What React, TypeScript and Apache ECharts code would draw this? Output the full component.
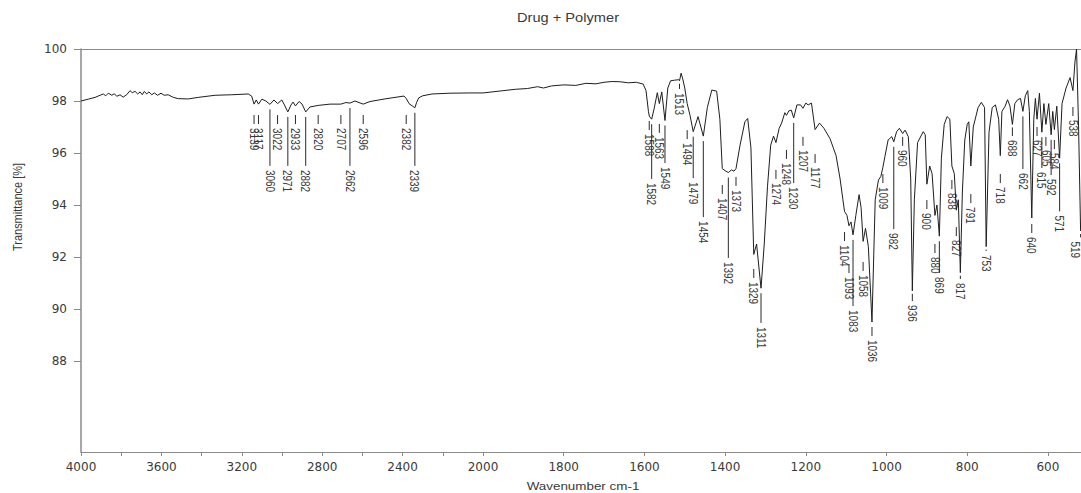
import React, { useEffect, useRef } from 'react';
import * as echarts from 'echarts';

// FTIR spectrum: wavenumber (cm-1) and transmittance (%)
const curveWavenumbers = [
  4000, 3997, 3964, 3930, 3905, 3889, 3877, 3864, 3847, 3834, 3822, 3806, 3790, 3773, 3756, 3745,
  3731, 3718, 3706, 3695, 3685, 3673, 3662, 3648, 3635, 3619, 3602, 3586, 3566, 3541, 3516, 3466,
  3416, 3333, 3250, 3168, 3151, 3139, 3128, 3117, 3100, 3080, 3060, 3040, 3022, 3001, 2990, 2971,
  2955, 2945, 2933, 2915, 2900, 2882, 2861, 2820, 2761, 2707, 2682, 2662, 2637, 2596, 2562, 2488,
  2428, 2393, 2382, 2368, 2350, 2339, 2330, 2320, 2300, 2254, 2164, 2065, 2000,
  1960, 1920, 1890, 1865, 1850, 1830, 1800, 1770, 1745, 1720, 1700, 1680, 1660, 1640, 1620, 1603,
  1596, 1590, 1588, 1582, 1576, 1568, 1563, 1557, 1549, 1542, 1535, 1525, 1515, 1513, 1509, 1505,
  1500, 1494, 1487, 1479, 1467, 1454, 1444, 1433, 1421, 1413, 1407, 1398, 1392, 1384, 1378, 1373,
  1363, 1351, 1344, 1336, 1329, 1322, 1311, 1303, 1295, 1287, 1280, 1274, 1266, 1260, 1252, 1248,
  1242, 1236, 1230, 1222, 1213, 1207, 1200, 1194, 1186, 1177, 1166, 1155, 1140, 1125, 1115, 1108,
  1104, 1098, 1093, 1088, 1083, 1076, 1068, 1063, 1058, 1052, 1045, 1036, 1028, 1020, 1014, 1009,
  1004, 996, 987, 982, 975, 968, 960, 954, 946, 940, 936, 931, 923, 909, 904, 900,
  893, 887, 880, 875, 869, 864, 857, 850, 843, 838, 832, 827, 822, 817, 812, 806,
  800, 796, 791, 785, 773, 765, 757, 753, 746, 738, 730, 722, 718, 714, 706, 700,
  694, 688, 682, 675, 668, 662, 656, 650, 646, 640, 635, 631, 627, 621, 615, 610,
  605, 598, 592, 588, 584, 578, 571, 565, 555, 545, 538, 533, 529, 524, 519,
];
const curveTransmittance = [
  98.0, 98.01, 98.07, 98.14, 98.22, 98.27, 98.2, 98.3, 98.22, 98.28, 98.18, 98.24, 98.15, 98.24, 98.4, 98.32,
  98.37, 98.27, 98.35, 98.24, 98.37, 98.27, 98.35, 98.24, 98.31, 98.22, 98.3, 98.22, 98.24, 98.14, 98.09, 98.08,
  98.14, 98.22, 98.24, 98.27, 98.19, 97.88, 98.04, 97.88, 98.07, 98.0, 97.87, 98.04, 97.9, 98.04, 97.88, 97.58,
  97.85, 97.96, 97.81, 97.98, 97.88, 97.58, 97.77, 97.83, 97.88, 97.88, 97.94, 97.92, 98.0, 97.88, 97.98, 98.08,
  98.15, 98.19, 98.1, 97.9, 97.8, 97.74, 97.95, 98.12, 98.2, 98.27, 98.3, 98.31, 98.31,
  98.38, 98.45, 98.48, 98.55, 98.5, 98.58, 98.62, 98.6, 98.68, 98.66, 98.72, 98.75, 98.74, 98.7, 98.72, 98.65,
  98.4, 97.6, 97.42, 97.3, 97.7, 98.32, 97.9, 98.35, 97.25, 98.5, 98.78, 98.8, 98.82, 98.78, 99.07, 98.85,
  98.5, 97.9, 97.45, 96.82, 97.4, 96.65, 97.75, 98.42, 98.38, 97.3, 95.4, 95.3, 95.25, 95.35, 95.3, 95.4,
  96.3, 97.2, 97.33, 96.2, 92.1, 92.5, 90.8, 92.5, 94.7, 96.3, 96.65, 96.4, 96.95, 97.15, 97.55, 97.45,
  97.62, 97.65, 97.35, 97.85, 97.85, 97.72, 97.92, 97.85, 97.92, 96.9, 97.15, 96.95, 96.55, 95.9, 95.0, 94.2,
  93.75, 93.6, 93.2, 93.35, 92.85, 93.6, 94.4, 93.9, 92.6, 93.1, 92.4, 89.5, 94.2, 94.96, 95.1, 95.45,
  95.86, 96.5, 96.63, 96.43, 96.82, 96.95, 96.75, 96.88, 96.63, 95.0, 90.7, 94.2, 96.4, 96.82, 96.7, 94.8,
  95.5, 95.2, 93.6, 94.0, 92.8, 95.8, 97.1, 97.4, 97.3, 95.5, 95.2, 93.8, 94.2, 91.4, 94.5, 96.5,
  97.1, 97.2, 95.5, 97.0, 97.75, 97.95, 97.75, 92.4, 96.8, 97.75, 97.85, 97.3, 95.9, 97.6, 97.8, 98.05,
  97.8, 97.1, 97.9, 98.05, 98.1, 97.6, 98.2, 98.4, 97.6, 93.5, 97.3, 98.1, 97.3, 98.3, 96.8, 97.9,
  97.1, 97.9, 96.7, 97.6, 96.9, 97.8, 95.8, 97.9, 98.5, 98.9, 98.4, 99.5, 100.0, 97.0, 93.0,
];

// Peak picks: wavenumber, transmittance level where the label text begins, long leader (1) or short (0)
const peakWavenumbers = [
  3139, 3117, 3060, 3022, 2971, 2933, 2882, 2820, 2707, 2662, 2596, 2382, 2339,
  1588, 1582, 1563, 1549, 1513, 1494, 1479, 1454, 1407, 1392, 1373, 1329, 1311, 1274, 1248, 1230,
  1207, 1177, 1104, 1093, 1083, 1058, 1036, 1009, 982, 960, 936, 900, 880, 869, 838, 827, 817,
  791, 753, 718, 688, 662, 640, 627, 615, 605, 592, 584, 571, 538, 519,
];
const peakLabelLevels = [
  96.96, 96.96, 95.35, 96.96, 95.35, 96.96, 95.35, 96.96, 96.96, 95.35, 96.96, 96.96, 95.35,
  96.73, 94.85, 96.62, 95.46, 98.31, 96.38, 94.88, 93.38, 94.27, 91.81, 94.58, 91.04, 89.31, 94.85, 95.62, 94.69,
  96.12, 95.46, 92.46, 91.23, 89.96, 91.31, 88.81, 94.69, 92.92, 96.12, 90.15, 93.69, 92.0, 91.23, 94.46, 92.65, 91.0,
  93.92, 92.08, 94.69, 96.5, 95.23, 92.77, 96.5, 95.27, 96.12, 95.0, 96.0, 93.6, 97.27, 92.6,
];
const peakLongLeader = [
  0, 0, 1, 0, 1, 0, 1, 0, 0, 1, 0, 0, 1,
  0, 1, 0, 1, 0, 0, 1, 1, 0, 1, 0, 0, 1, 0, 0, 1,
  0, 0, 0, 0, 1, 0, 0, 0, 1, 0, 0, 0, 0, 1, 0, 0, 0,
  0, 0, 0, 0, 1, 0, 0, 1, 0, 1, 0, 1, 0, 0,
];

const highTickValues = [4000, 3800, 3600, 3400, 3200, 3000, 2800, 2600, 2400, 2200, 2000];
const highLabelValues = [4000, 3600, 3200, 2800, 2400, 2000];
const lowTickValues = [2000, 1800, 1600, 1400, 1200, 1000, 800, 600];
const lowLabelValues = [1800, 1600, 1400, 1200, 1000, 800, 600];
const yTickValues = [88, 90, 92, 94, 96, 98, 100];

const TITLE = 'Drug + Polymer';
const X_NAME = 'Wavenumber cm-1';
const Y_NAME = 'Transmittance [%]';

const AXIS_COLOR = '#8a8a8a';
const TEXT_COLOR = '#3a3a3a';
const LINE_COLOR = '#1e1e1e';
const STRETCH = 1.22;

export default function App() {
  const ref = useRef<HTMLDivElement>(null);

  useEffect(() => {
    if (!ref.current) return;
    const chart = echarts.init(ref.current, undefined, { renderer: 'svg' });

    const points = curveWavenumbers.map((w, i) => [w, curveTransmittance[i]]);
    const highCurve = points.filter((p) => p[0] >= 2000);
    const lowCurve = points.filter((p) => p[0] <= 2000);

    const peaks = peakWavenumbers.map((w, i) => {
      const idx = curveWavenumbers.indexOf(w);
      return [w, curveTransmittance[idx], peakLabelLevels[i], peakLongLeader[i]];
    });
    const highPeaks = peaks.filter((p) => p[0] > 2000);
    const lowPeaks = peaks.filter((p) => p[0] < 2000);

    const renderPeak = (params: any, api: any) => {
      const wn = api.value(0);
      const p = api.coord([wn, api.value(1)]);
      const l = api.coord([wn, api.value(2)]);
      const long = api.value(3) === 1;
      const cs = params.coordSys;
      const rightLimit = cs.x + cs.width - 6;
      const yStart = long ? p[1] + 5 : Math.max(p[1] + 3, l[1] - 13);
      const yEnd = l[1] - 4;
      const children: any[] = [];
      if (yEnd > yStart) {
        children.push({
          type: 'line',
          shape: { x1: p[0], y1: yStart, x2: p[0], y2: yEnd },
          style: { stroke: '#2a2a2a', lineWidth: 1 },
        });
      }
      children.push({
        type: 'text',
        x: Math.min(p[0], rightLimit),
        y: l[1],
        rotation: -Math.PI / 2,
        scaleY: STRETCH,
        style: {
          text: String(wn),
          fill: TEXT_COLOR,
          fontSize: 10,
          fontFamily: 'Liberation Sans, Arial, sans-serif',
          align: 'left',
          verticalAlign: 'middle',
        },
      });
      return { type: 'group', children };
    };

    const tickLabel = {
      color: TEXT_COLOR,
      fontSize: 12,
      fontFamily: 'DejaVu Sans, sans-serif',
      formatter: (v: number) => String(v),
    };

    const option: any = {
      animation: false,
      grid: [
        { left: 81, top: 49, width: 402, height: 403 },
        { left: 483, top: 49, width: 598, height: 403 },
      ],
      xAxis: [
        {
          gridIndex: 0, type: 'value', min: 2000, max: 4000, inverse: true, position: 'bottom',
          axisLine: { show: true, lineStyle: { color: AXIS_COLOR, width: 1 } },
          axisTick: { show: true, length: 4, lineStyle: { color: AXIS_COLOR }, customValues: highTickValues },
          axisLabel: { ...tickLabel, margin: 9, customValues: highLabelValues },
          splitLine: { show: false },
        },
        {
          gridIndex: 1, type: 'value', min: 518, max: 2000, inverse: true, position: 'bottom',
          axisLine: { show: true, lineStyle: { color: AXIS_COLOR, width: 1 } },
          axisTick: { show: true, length: 4, lineStyle: { color: AXIS_COLOR }, customValues: lowTickValues },
          axisLabel: { ...tickLabel, margin: 9, customValues: lowLabelValues },
          splitLine: { show: false },
        },
        {
          gridIndex: 0, type: 'value', min: 2000, max: 4000, inverse: true, position: 'top',
          axisLine: { show: true, lineStyle: { color: AXIS_COLOR, width: 1 } },
          axisTick: { show: false }, axisLabel: { show: false }, splitLine: { show: false },
        },
        {
          gridIndex: 1, type: 'value', min: 518, max: 2000, inverse: true, position: 'top',
          axisLine: { show: true, lineStyle: { color: AXIS_COLOR, width: 1 } },
          axisTick: { show: false }, axisLabel: { show: false }, splitLine: { show: false },
        },
      ],
      yAxis: [
        {
          gridIndex: 0, type: 'value', min: 84.5, max: 100,
          axisLine: { show: true, lineStyle: { color: AXIS_COLOR, width: 1.5 } },
          axisTick: { show: true, length: 7, lineStyle: { color: AXIS_COLOR }, customValues: yTickValues },
          axisLabel: { ...tickLabel, margin: 14, customValues: yTickValues },
          splitLine: { show: false },
        },
        {
          gridIndex: 1, type: 'value', min: 84.5, max: 100, show: false,
          splitLine: { show: false },
        },
      ],
      series: [
        {
          type: 'line', xAxisIndex: 0, yAxisIndex: 0, data: highCurve, showSymbol: false,
          lineStyle: { color: LINE_COLOR, width: 1 }, silent: true,
        },
        {
          type: 'line', xAxisIndex: 1, yAxisIndex: 1, data: lowCurve, showSymbol: false,
          lineStyle: { color: LINE_COLOR, width: 1 }, silent: true,
        },
        {
          type: 'custom', xAxisIndex: 0, yAxisIndex: 0, data: highPeaks, renderItem: renderPeak,
          encode: { x: 0, y: 1 }, silent: true,
        },
        {
          type: 'custom', xAxisIndex: 1, yAxisIndex: 1, data: lowPeaks, renderItem: renderPeak,
          encode: { x: 0, y: 1 }, silent: true,
        },
      ],
      graphic: [
        {
          type: 'text', x: 568, y: 18, scaleX: STRETCH,
          style: { text: TITLE, fill: TEXT_COLOR, font: '12px "Liberation Sans", Arial, sans-serif', textAlign: 'center', textVerticalAlign: 'middle' },
        },
        {
          type: 'text', x: 583, y: 486, scaleX: STRETCH,
          style: { text: X_NAME, fill: TEXT_COLOR, font: '11px "Liberation Sans", Arial, sans-serif', textAlign: 'center', textVerticalAlign: 'middle' },
        },
        {
          type: 'text', x: 18, y: 207, rotation: Math.PI / 2, scaleY: STRETCH,
          style: { text: Y_NAME, fill: TEXT_COLOR, font: '11px "Liberation Sans", Arial, sans-serif', textAlign: 'center', textVerticalAlign: 'middle' },
        },
      ],
    };

    chart.setOption(option);
    return () => chart.dispose();
  }, []);

  return (
    <div
      ref={ref}
      style={{ position: 'absolute', left: 0, top: 0, width: 1081, height: 493, background: '#fff' }}
    />
  );
}
